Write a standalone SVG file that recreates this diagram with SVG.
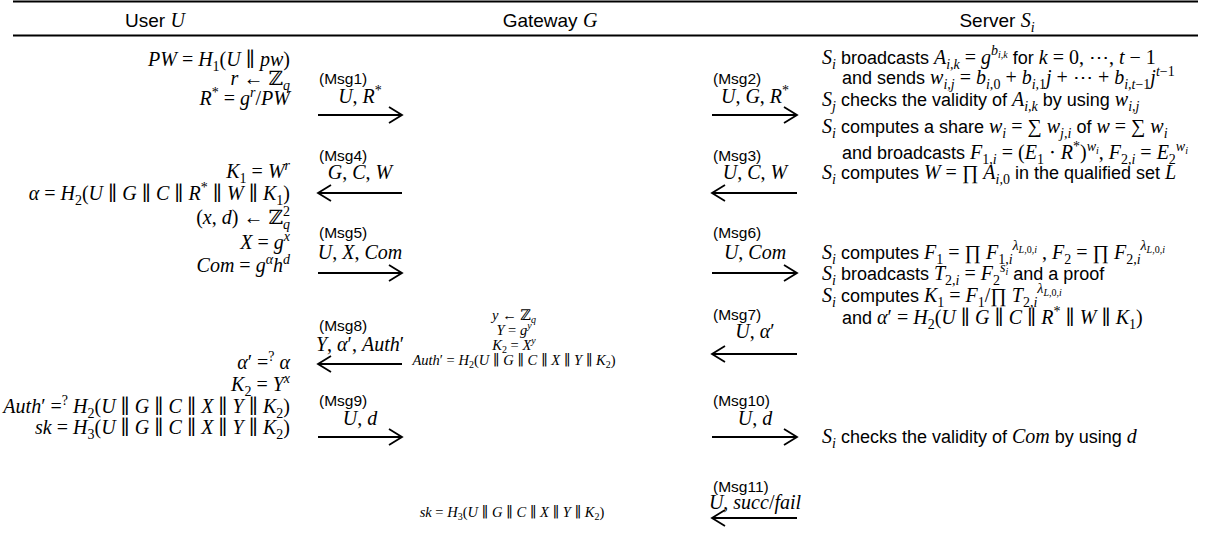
<svg xmlns="http://www.w3.org/2000/svg" width="1211" height="534" viewBox="0 0 1211 534">
<defs>
<style>
text{fill:#000}
.hd{font-family:"Liberation Sans",Arial,sans-serif;font-size:19px}
.lb{font-family:"Liberation Sans",Arial,sans-serif;font-size:15.5px}
.tx{font-family:"Liberation Sans",Arial,sans-serif;font-size:18px}
.m{font-family:"Liberation Serif","DejaVu Serif",serif;font-style:italic;font-size:20px}
.mm{font-family:"Liberation Serif","DejaVu Serif",serif;font-style:italic;font-size:14.5px}
.mi{font-family:"Liberation Serif","DejaVu Serif",serif;font-style:italic;font-size:20px}
.mu{font-family:"Liberation Serif","DejaVu Serif",serif;font-style:normal;font-size:20px}
.u{font-style:normal}
.sb{font-size:14px}
.sm{font-size:10px}
.ss{font-size:10px}
.rule{stroke:#000;stroke-width:2}
.arr{stroke:#000;stroke-width:1.8;fill:none;marker-end:url(#ah)}
</style>
<marker id="ah" markerUnits="userSpaceOnUse" markerWidth="18" markerHeight="20" refX="14" refY="10" orient="auto" overflow="visible">
<path d="M1,2 L14,10 L1,18" fill="none" stroke="#000" stroke-width="1.8"/>
</marker>
</defs>

<g id="header">
<line class="rule" x1="13" y1="1.5" x2="1198" y2="1.5"/>
<line class="rule" x1="13" y1="35.5" x2="1198" y2="35.5"/>
<text class="hd" x="155" y="27" text-anchor="middle">User <tspan class="mi"> U</tspan></text>
<text class="hd" x="550" y="27" text-anchor="middle">Gateway <tspan class="mi"> G</tspan></text>
<text class="hd" x="997" y="27" text-anchor="middle">Server <tspan class="mi"> S</tspan><tspan class="mi sb" dy="5">i</tspan></text>
</g>

<g id="user-U">
<text class="m" text-anchor="end" x="290" y="66">PW <tspan class="u">=</tspan> H<tspan class="sb u" dy="5">1</tspan><tspan class="u" dy="-5">(</tspan>U <tspan class="u">∥</tspan> pw<tspan class="u">)</tspan></text>
<text class="m" text-anchor="end" x="290" y="85">r <tspan class="u">← ℤ</tspan><tspan class="sb" dy="5">q</tspan></text>
<text class="m" text-anchor="end" x="290" y="105">R<tspan class="sb u" dy="-8">*</tspan><tspan class="u" dy="8"> = </tspan>g<tspan class="sb" dy="-8">r</tspan><tspan class="u" dy="8">/</tspan>PW</text>
<text class="m" text-anchor="end" x="290" y="178">K<tspan class="sb u" dy="5">1</tspan><tspan class="u" dy="-5"> = </tspan>W<tspan class="sb" dy="-8">r</tspan></text>
<text class="m" text-anchor="end" x="290" y="200">α <tspan class="u">=</tspan> H<tspan class="sb u" dy="5">2</tspan><tspan class="u" dy="-5">(</tspan>U <tspan class="u">∥</tspan> G <tspan class="u">∥</tspan> C <tspan class="u">∥</tspan> R<tspan class="sb u" dy="-8">*</tspan><tspan class="u" dy="8"> ∥</tspan> W <tspan class="u">∥</tspan> K<tspan class="sb u" dy="5">1</tspan><tspan class="u" dy="-5">)</tspan></text>
<text class="m" text-anchor="end" x="290" y="224"><tspan class="u">(</tspan>x<tspan class="u">, </tspan>d<tspan class="u">) ← ℤ</tspan><tspan class="sb u" dy="-8">2</tspan><tspan class="sb" dx="-7" dy="13">q</tspan></text>
<text class="m" text-anchor="end" x="290" y="249">X<tspan class="u"> = </tspan>g<tspan class="sb" dy="-8">x</tspan></text>
<text class="m" text-anchor="end" x="290" y="272">Com<tspan class="u"> = </tspan>g<tspan class="sb" dy="-8">α</tspan><tspan dy="8">h</tspan><tspan class="sb" dy="-8">d</tspan></text>
<text class="m" text-anchor="end" x="290" y="369">α<tspan class="u">′ =</tspan><tspan class="sb u" dy="-8">?</tspan><tspan dy="8"> α</tspan></text>
<text class="m" text-anchor="end" x="290" y="391">K<tspan class="sb u" dy="5">2</tspan><tspan class="u" dy="-5"> = </tspan>Y<tspan class="sb" dy="-8">x</tspan></text>
<text class="m" text-anchor="end" x="290" y="413">Auth<tspan class="u">′ =</tspan><tspan class="sb u" dy="-8">?</tspan><tspan dy="8"> H</tspan><tspan class="sb u" dy="5">2</tspan><tspan class="u" dy="-5">(</tspan>U <tspan class="u">∥</tspan> G <tspan class="u">∥</tspan> C <tspan class="u">∥</tspan> X <tspan class="u">∥</tspan> Y <tspan class="u">∥</tspan> K<tspan class="sb u" dy="5">2</tspan><tspan class="u" dy="-5">)</tspan></text>
<text class="m" text-anchor="end" x="290" y="434">sk <tspan class="u">=</tspan> H<tspan class="sb u" dy="5">3</tspan><tspan class="u" dy="-5">(</tspan>U <tspan class="u">∥</tspan> G <tspan class="u">∥</tspan> C <tspan class="u">∥</tspan> X <tspan class="u">∥</tspan> Y <tspan class="u">∥</tspan> K<tspan class="sb u" dy="5">2</tspan><tspan class="u" dy="-5">)</tspan></text>
</g>

<g id="gateway-G">
<text class="mm" text-anchor="middle" x="514" y="320">y <tspan class="u">← ℤ</tspan><tspan class="sm" dy="3">q</tspan></text>
<text class="mm" text-anchor="middle" x="514" y="335">Y<tspan class="u"> = </tspan>g<tspan class="sm" dy="-6">y</tspan></text>
<text class="mm" text-anchor="middle" x="514" y="350">K<tspan class="sm u" dy="3">2</tspan><tspan class="u" dy="-3"> = </tspan>X<tspan class="sm" dy="-6">y</tspan></text>
<text class="mm" text-anchor="middle" x="514" y="365">Auth<tspan class="u">′ = </tspan>H<tspan class="sm u" dy="3">2</tspan><tspan class="u" dy="-3">(</tspan>U<tspan class="u"> ∥ </tspan>G<tspan class="u"> ∥ </tspan>C<tspan class="u"> ∥ </tspan>X<tspan class="u"> ∥ </tspan>Y<tspan class="u"> ∥ </tspan>K<tspan class="sm u" dy="3">2</tspan><tspan class="u" dy="-3">)</tspan></text>
<text class="mm" text-anchor="middle" x="512" y="517">sk <tspan class="u">=</tspan> H<tspan class="sm u" dy="3">3</tspan><tspan class="u" dy="-3">(</tspan>U<tspan class="u"> ∥ </tspan>G<tspan class="u"> ∥ </tspan>C<tspan class="u"> ∥ </tspan>X<tspan class="u"> ∥ </tspan>Y<tspan class="u"> ∥ </tspan>K<tspan class="sm u" dy="3">2</tspan><tspan class="u" dy="-3">)</tspan></text>
</g>

<g id="server-Si">
<text class="tx" x="822" y="64"><tspan class="mi">S</tspan><tspan class="mi sb" dy="5">i</tspan><tspan dy="-5"> broadcasts </tspan><tspan class="mi">A</tspan><tspan class="mi sb" dy="5">i,k</tspan><tspan class="mu" dy="-5"> = </tspan><tspan class="mi">g</tspan><tspan class="mi sb" dy="-9">b</tspan><tspan class="mi ss" dy="3">i,k</tspan><tspan dy="6"> for </tspan><tspan class="mi">k</tspan><tspan class="mu"> = 0, ⋯, </tspan><tspan class="mi">t</tspan><tspan class="mu"> − 1</tspan></text>
<text class="tx" x="842" y="84">and sends <tspan class="mi">w</tspan><tspan class="mi sb" dy="5">i,j</tspan><tspan class="mu" dy="-5"> = </tspan><tspan class="mi">b</tspan><tspan class="mi sb" dy="5">i,</tspan><tspan class="mu sb">0</tspan><tspan class="mu" dy="-5"> + </tspan><tspan class="mi">b</tspan><tspan class="mi sb" dy="5">i,</tspan><tspan class="mu sb">1</tspan><tspan class="mi" dy="-5">j</tspan><tspan class="mu"> + ⋯ + </tspan><tspan class="mi">b</tspan><tspan class="mi sb" dy="5">i,t</tspan><tspan class="mu sb">−1</tspan><tspan class="mi" dy="-5">j</tspan><tspan class="mi sb" dy="-8">t</tspan><tspan class="mu sb">−1</tspan></text>
<text class="tx" x="822" y="106"><tspan class="mi">S</tspan><tspan class="mi sb" dy="5">j</tspan><tspan dy="-5"> checks the validity of </tspan><tspan class="mi">A</tspan><tspan class="mi sb" dy="5">i,k</tspan><tspan dy="-5"> by using </tspan><tspan class="mi">w</tspan><tspan class="mi sb" dy="5">i,j</tspan></text>
<text class="tx" x="822" y="133"><tspan class="mi">S</tspan><tspan class="mi sb" dy="5">i</tspan><tspan dy="-5"> computes a share </tspan><tspan class="mi">w</tspan><tspan class="mi sb" dy="5">i</tspan><tspan class="mu" dy="-5"> = ∑ </tspan><tspan class="mi">w</tspan><tspan class="mi sb" dy="5">j,i</tspan><tspan dy="-5"> of </tspan><tspan class="mi">w</tspan><tspan class="mu"> = ∑ </tspan><tspan class="mi">w</tspan><tspan class="mi sb" dy="5">i</tspan></text>
<text class="tx" x="842" y="159">and broadcasts <tspan class="mi">F</tspan><tspan class="mu sb" dy="5">1,</tspan><tspan class="mi sb">i</tspan><tspan class="mu" dy="-5"> = (</tspan><tspan class="mi">E</tspan><tspan class="mu sb" dy="5">1</tspan><tspan class="mu" dy="-5"> ⋅ </tspan><tspan class="mi">R</tspan><tspan class="mu sb" dy="-8">*</tspan><tspan class="mu" dy="8">)</tspan><tspan class="mi sb" dy="-8">w</tspan><tspan class="mi ss" dy="3">i</tspan><tspan class="mu" dy="5">,  </tspan><tspan class="mi">F</tspan><tspan class="mu sb" dy="5">2,</tspan><tspan class="mi sb">i</tspan><tspan class="mu" dy="-5"> = </tspan><tspan class="mi">E</tspan><tspan class="mu sb" dy="5">2</tspan><tspan class="mi sb" dy="-13">w</tspan><tspan class="mi ss" dy="3">i</tspan></text>
<text class="tx" x="822" y="179"><tspan class="mi">S</tspan><tspan class="mi sb" dy="5">i</tspan><tspan dy="-5"> computes </tspan><tspan class="mi">W</tspan><tspan class="mu"> = ∏ </tspan><tspan class="mi">A</tspan><tspan class="mi sb" dy="5">i,</tspan><tspan class="mu sb">0</tspan><tspan dy="-5"> in the qualified set </tspan><tspan class="mi">L</tspan></text>
<text class="tx" x="822" y="259"><tspan class="mi">S</tspan><tspan class="mi sb" dy="5">i</tspan><tspan dy="-5"> computes </tspan><tspan class="mi">F</tspan><tspan class="mu sb" dy="5">1</tspan><tspan class="mu" dy="-5"> = ∏ </tspan><tspan class="mi">F</tspan><tspan class="mu sb" dy="5">1,</tspan><tspan class="mi sb">i</tspan><tspan class="mi sb" dy="-14">λ</tspan><tspan class="mi ss" dy="3">L,</tspan><tspan class="mu ss">0,</tspan><tspan class="mi ss">i</tspan><tspan class="mu" dy="6"> , </tspan><tspan class="mi">F</tspan><tspan class="mu sb" dy="5">2</tspan><tspan class="mu" dy="-5"> = ∏ </tspan><tspan class="mi">F</tspan><tspan class="mu sb" dy="5">2,</tspan><tspan class="mi sb">i</tspan><tspan class="mi sb" dy="-14">λ</tspan><tspan class="mi ss" dy="3">L,</tspan><tspan class="mu ss">0,</tspan><tspan class="mi ss">i</tspan></text>
<text class="tx" x="822" y="280"><tspan class="mi">S</tspan><tspan class="mi sb" dy="5">i</tspan><tspan dy="-5"> broadcasts </tspan><tspan class="mi">T</tspan><tspan class="mu sb" dy="5">2,</tspan><tspan class="mi sb">i</tspan><tspan class="mu" dy="-5"> = </tspan><tspan class="mi">F</tspan><tspan class="mu sb" dy="5">2</tspan><tspan class="mi sb" dy="-13">s</tspan><tspan class="mi ss" dy="3">i</tspan><tspan dy="5"> and a proof</tspan></text>
<text class="tx" x="822" y="302"><tspan class="mi">S</tspan><tspan class="mi sb" dy="5">i</tspan><tspan dy="-5"> computes </tspan><tspan class="mi">K</tspan><tspan class="mu sb" dy="5">1</tspan><tspan class="mu" dy="-5"> = </tspan><tspan class="mi">F</tspan><tspan class="mu sb" dy="5">1</tspan><tspan class="mu" dy="-5">/∏ </tspan><tspan class="mi">T</tspan><tspan class="mu sb" dy="5">2,</tspan><tspan class="mi sb">i</tspan><tspan class="mi sb" dy="-14">λ</tspan><tspan class="mi ss" dy="3">L,</tspan><tspan class="mu ss">0,</tspan><tspan class="mi ss">i</tspan></text>
<text class="tx" x="842" y="324">and <tspan class="mi">α</tspan><tspan class="mu">′ = </tspan><tspan class="mi">H</tspan><tspan class="mu sb" dy="5">2</tspan><tspan class="mu" dy="-5">(</tspan><tspan class="mi">U</tspan><tspan class="mu"> ∥ </tspan><tspan class="mi">G</tspan><tspan class="mu"> ∥ </tspan><tspan class="mi">C</tspan><tspan class="mu"> ∥ </tspan><tspan class="mi">R</tspan><tspan class="mu sb" dy="-8">*</tspan><tspan class="mu" dy="8"> ∥ </tspan><tspan class="mi">W</tspan><tspan class="mu"> ∥ </tspan><tspan class="mi">K</tspan><tspan class="mu sb" dy="5">1</tspan><tspan class="mu" dy="-5">)</tspan></text>
<text class="tx" x="822" y="443"><tspan class="mi">S</tspan><tspan class="mi sb" dy="5">i</tspan><tspan dy="-5"> checks the validity of </tspan><tspan class="mi">Com</tspan> by using <tspan class="mi">d</tspan></text>
</g>

<g id="connectors">
<line class="arr" x1="318" y1="115" x2="402" y2="115"/>
<line class="arr" x1="712" y1="115" x2="797" y2="115"/>
<line class="arr" x1="797" y1="193" x2="712" y2="193"/>
<line class="arr" x1="402" y1="193" x2="318" y2="193"/>
<line class="arr" x1="318" y1="273" x2="402" y2="273"/>
<line class="arr" x1="712" y1="273" x2="797" y2="273"/>
<line class="arr" x1="797" y1="354" x2="712" y2="354"/>
<line class="arr" x1="402" y1="364" x2="318" y2="364"/>
<line class="arr" x1="318" y1="437" x2="402" y2="437"/>
<line class="arr" x1="712" y1="437" x2="797" y2="437"/>
<line class="arr" x1="797" y1="518" x2="712" y2="518"/>
</g>

<g id="labels">
<text class="lb" x="319" y="84">(Msg1)</text>
<text class="m" x="360" y="103" text-anchor="middle">U<tspan class="u">, </tspan>R<tspan class="sb u" dy="-8">*</tspan></text>
<text class="lb" x="713" y="84">(Msg2)</text>
<text class="m" x="755" y="103" text-anchor="middle">U<tspan class="u">, </tspan>G<tspan class="u">, </tspan>R<tspan class="sb u" dy="-8">*</tspan></text>
<text class="lb" x="713" y="161">(Msg3)</text>
<text class="m" x="755" y="179" text-anchor="middle">U<tspan class="u">, </tspan>C<tspan class="u">, </tspan>W</text>
<text class="lb" x="319" y="161">(Msg4)</text>
<text class="m" x="360" y="179" text-anchor="middle">G<tspan class="u">, </tspan>C<tspan class="u">, </tspan>W</text>
<text class="lb" x="319" y="238">(Msg5)</text>
<text class="m" x="360" y="259" text-anchor="middle">U<tspan class="u">, </tspan>X<tspan class="u">, </tspan>Com</text>
<text class="lb" x="713" y="238">(Msg6)</text>
<text class="m" x="755" y="259" text-anchor="middle">U<tspan class="u">, </tspan>Com</text>
<text class="lb" x="713" y="320">(Msg7)</text>
<text class="m" x="755" y="338" text-anchor="middle">U<tspan class="u">, </tspan>α<tspan class="u">′</tspan></text>
<text class="lb" x="319" y="331">(Msg8)</text>
<text class="m" x="360" y="351" text-anchor="middle">Y<tspan class="u">, </tspan>α<tspan class="u">′, </tspan>Auth<tspan class="u">′</tspan></text>
<text class="lb" x="319" y="406">(Msg9)</text>
<text class="m" x="360" y="425" text-anchor="middle">U<tspan class="u">, </tspan>d</text>
<text class="lb" x="713" y="406">(Msg10)</text>
<text class="m" x="755" y="425" text-anchor="middle">U<tspan class="u">, </tspan>d</text>
<text class="lb" x="713" y="492">(Msg11)</text>
<text class="m" x="755" y="509" text-anchor="middle">U<tspan class="u">, </tspan>succ<tspan class="u">/</tspan>fail</text>
</g>
</svg>
